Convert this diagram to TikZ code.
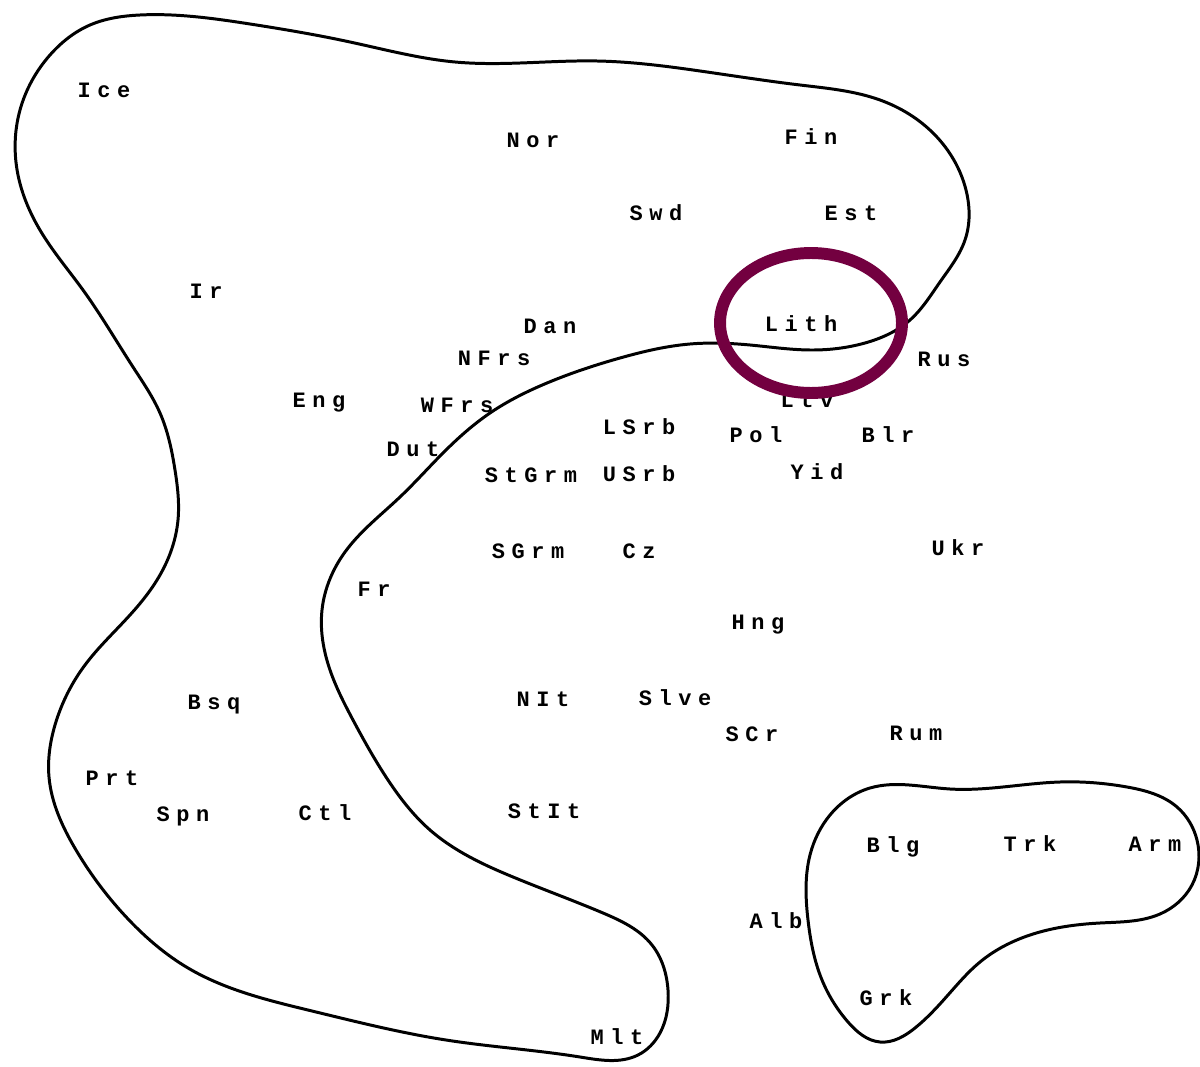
\documentclass[tikz,border=0pt]{standalone}
\usepackage{fontspec}
\newfontfamily\langfont[LetterSpace=30]{Liberation Mono}
\usepackage{tikz}
\usetikzlibrary{positioning, hobby}
\definecolor{ringred}{RGB}{115,0,64}

\begin{document}
\begin{tikzpicture}[
  x=0.02cm, y=-0.02cm,
  lang/.style={font=\langfont\bfseries\fontsize{12.5}{12.5}\selectfont, inner sep=0pt, text height=7.5pt, text depth=0pt, anchor=center},
  region/.style={line width=1.7pt, line join=round, use Hobby shortcut, closed=true},
  hilite/.style={draw=ringred, line width=6.8pt}
]
  \useasboundingbox (0,0) rectangle (1200,1067);

  % the two clusters
  \draw[region] (140,15) .. (250,24) .. (350,42) .. (455,62) .. (597,61)
    .. (700,71) .. (800,85) .. (880,100) .. (935,135) .. (966,190)
    .. (965,240) .. (940,282) .. (910,320) .. (865,343) .. (810,350)
    .. (750,345) .. (690,344) .. (620,358) .. (547,383) .. (490,413)
    .. (443,453) .. (400,497) .. (345,552) .. (322,610) .. (330,670)
    .. (353,720) .. (388,780) .. (430,830) .. (513,877) .. (603,913)
    .. (652,945) .. (668,990) .. (660,1033) .. (638,1055) .. (580,1057)
    .. (446,1040) .. (312,1011) .. (188,968) .. (129,920) .. (76,850)
    .. (49,777) .. (55,725) .. (85,665) .. (130,615) .. (160,575)
    .. (178,520) .. (175,470) .. (160,413) .. (133,367) .. (83,290)
    .. (43,235) .. (18,175) .. (20,110) .. (50,55) .. (90,25) .. (140,15);
  \draw[region] (870,788) .. (950,789) .. (1060,782) .. (1127,787)
    .. (1177,807) .. (1197,840) .. (1192,885) .. (1160,914) .. (1100,923)
    .. (1030,935) .. (980,962) .. (948,995) .. (915,1028) .. (880,1042)
    .. (848,1022) .. (822,980) .. (808,920) .. (810,855) .. (830,815)
    .. (870,788);

  \node[lang] (ice) at (104,91) {Ice};
  \node[lang] (nor) at (533,141) {Nor};
  \node[lang] (fin) at (811,138) {Fin};
  \node[lang] (swd) at (656,214) {Swd};
  \node[lang] (est) at (851,214) {Est};
  \node[lang] (ir) at (206,292) {Ir};
  \node[lang] (dan) at (550,327) {Dan};
  \node[lang] (lith) at (801,325) {Lith};
  \node[lang] (nfrs) at (494,359) {NFrs};
  \node[lang] (rus) at (944,360) {Rus};
  \node[lang] (ltv) at (807,401) {Ltv};
  \node[lang] (eng) at (319,401) {Eng};
  \node[lang] (wfrs) at (457,406) {WFrs};
  \node[lang] (dut) at (413,450) {Dut};
  \node[lang] (lsrb) at (639,428) {LSrb};
  \node[lang] (pol) at (756,436) {Pol};
  \node[lang] (blr) at (888,436) {Blr};
  \node[lang] (stgrm) at (531,476) {StGrm};
  \node[lang] (usrb) at (639,475) {USrb};
  \node[lang] (yid) at (817,473) {Yid};
  \node[lang] (sgrm) at (528,552) {SGrm};
  \node[lang] (cz) at (639,552) {Cz};
  \node[lang] (ukr) at (958,549) {Ukr};
  \node[lang] (fr) at (374,590) {Fr};
  \node[lang] (hng) at (758,623) {Hng};
  \node[lang] (bsq) at (214,703) {Bsq};
  \node[lang] (nit) at (543,700) {NIt};
  \node[lang] (slve) at (675,699) {Slve};
  \node[lang] (scr) at (752,735) {SCr};
  \node[lang] (rum) at (916,734) {Rum};
  \node[lang] (prt) at (112,779) {Prt};
  \node[lang] (spn) at (183,815) {Spn};
  \node[lang] (ctl) at (325,814) {Ctl};
  \node[lang] (stit) at (544,812) {StIt};
  \node[lang] (blg) at (893,846) {Blg};
  \node[lang] (trk) at (1030,845) {Trk};
  \node[lang] (arm) at (1155,845) {Arm};
  \node[lang] (alb) at (776,922) {Alb};
  \node[lang] (grk) at (886,999) {Grk};
  \node[lang] (mlt) at (617,1038) {Mlt};

  % ring round Lithuanian
  \draw[hilite] (811,323) ellipse [x radius=1.82cm, y radius=1.40cm];
\end{tikzpicture}
\end{document}
